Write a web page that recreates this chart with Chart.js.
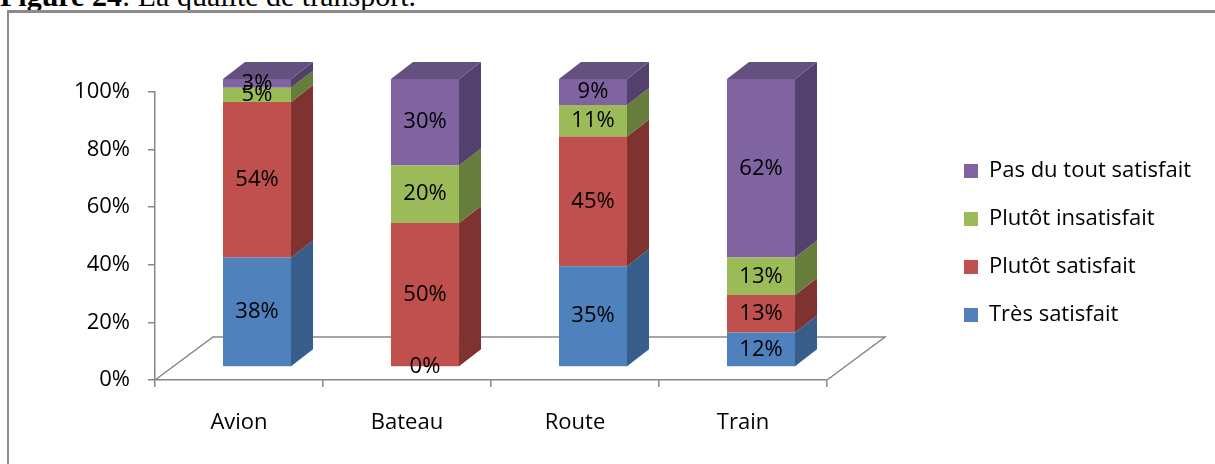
<!DOCTYPE html>
<html>
<head>
<meta charset="utf-8">
<script src="https://cdn.jsdelivr.net/npm/chart.js@4.4.1/dist/chart.umd.min.js"></script>
<style>
  body { margin: 0; background: #fff; overflow: hidden; }
  #caption {
    position: absolute; left: 0; top: -21px;
    font-family: "Liberation Serif", "Times New Roman", serif;
    font-size: 30px; white-space: nowrap; color: #000;
  }
  #frame {
    position: absolute; left: 7px; top: 10px; width: 1300px; height: 600px;
    border: 2px solid #8a8a8a; border-top-width: 3px;
  }
  #chart { position: absolute; left: 0; top: 0; }
</style>
</head>
<body>
<div id="caption"><b>Figure 24</b>: La qualité de transport.</div>
<div id="frame"></div>
<canvas id="chart" width="1215" height="464"></canvas>
<script>
const categories = ['Avion', 'Bateau', 'Route', 'Train'];
const seriesNames = ['Très satisfait', 'Plutôt satisfait', 'Plutôt insatisfait', 'Pas du tout satisfait'];
const tresSatisfait = [38, 0, 35, 12];
const plutotSatisfait = [54, 50, 45, 13];
const plutotInsatisfait = [5, 20, 11, 13];
const pasDuToutSatisfait = [3, 30, 9, 62];
const yTicks = [0, 20, 40, 60, 80, 100];

// front / side / top colours of each series
const fronts = ['#4f81bd', '#c0504d', '#9bbb59', '#8064a2'];
const sides = ['#385d8a', '#7e3331', '#677d3b', '#51416c'];
const tops = ['#41699b', '#9c403d', '#7f9b47', '#655180'];

const FONT = { family: 'Open Sans', size: 22 };
const AXIS = '#868686';
const DEPTH = { dx: 22, dy: -17 };  // depth of one column
const FLOOR = { dx: 58, dy: -43 };  // depth of the floor

const LEGEND_PAD = 26, BOX = 14;

// width of the legend box, so the right padding can be sized around it
const mctx = document.createElement('canvas').getContext('2d');
mctx.font = FONT.size + 'px "' + FONT.family + '"';
const longest = Math.max(...seriesNames.map(s => mctx.measureText(s).width));
const legendWidth = LEGEND_PAD + BOX + FONT.size / 2 + longest + 10;

const bars3d = {
  id: 'bars3d',
  beforeDatasetsDraw(chart) {
    const { ctx, chartArea: a } = chart;
    ctx.save();
    ctx.strokeStyle = AXIS;
    ctx.lineWidth = 1.5;
    ctx.beginPath();
    ctx.moveTo(a.left, a.bottom);
    ctx.lineTo(a.left + FLOOR.dx, a.bottom + FLOOR.dy);
    ctx.lineTo(a.right + FLOOR.dx, a.bottom + FLOOR.dy);
    ctx.lineTo(a.right, a.bottom);
    ctx.stroke();
    ctx.restore();
    // columns sit halfway into the floor
    ctx.save();
    ctx.translate((FLOOR.dx - DEPTH.dx) / 2, (FLOOR.dy - DEPTH.dy) / 2);
  },
  afterDatasetsDraw(chart) {
    const ctx = chart.ctx;
    const sets = chart.data.datasets;
    sets.forEach((ds, i) => {
      chart.getDatasetMeta(i).data.forEach((bar, j) => {
        const { x, y, base, width } = bar.getProps(['x', 'y', 'base', 'width'], true);
        if (Math.abs(base - y) < 0.5) return;
        const l = x - width / 2, r = x + width / 2;
        ctx.fillStyle = sides[i];
        ctx.beginPath();
        ctx.moveTo(r, y);
        ctx.lineTo(r + DEPTH.dx, y + DEPTH.dy);
        ctx.lineTo(r + DEPTH.dx, base + DEPTH.dy);
        ctx.lineTo(r, base);
        ctx.closePath();
        ctx.fill();
        const covered = sets.slice(i + 1).some(d => d.data[j] > 0);
        if (!covered) {
          ctx.fillStyle = tops[i];
          ctx.beginPath();
          ctx.moveTo(l, y);
          ctx.lineTo(l + DEPTH.dx, y + DEPTH.dy);
          ctx.lineTo(r + DEPTH.dx, y + DEPTH.dy);
          ctx.lineTo(r, y);
          ctx.closePath();
          ctx.fill();
        }
      });
    });
    // value labels on the front faces
    ctx.font = FONT.size + 'px "' + FONT.family + '"';
    ctx.fillStyle = '#000';
    ctx.textAlign = 'center';
    ctx.textBaseline = 'middle';
    sets.forEach((ds, i) => {
      chart.getDatasetMeta(i).data.forEach((bar, j) => {
        const { x, y, base } = bar.getProps(['x', 'y', 'base'], true);
        ctx.fillText(ds.data[j] + '%', x, (y + base) / 2);
      });
    });
    ctx.restore();
  }
};

const values = [tresSatisfait, plutotSatisfait, plutotInsatisfait, pasDuToutSatisfait];

// invisible axes used only to reserve room around the plot
const spacer = (position, size) => ({
  type: 'linear',
  position,
  grid: { display: false },
  border: { display: false },
  ticks: { display: false },
  afterFit(s) {
    if (position === 'top') s.height = size; else s.width = size;
  }
});

new Chart(document.getElementById('chart'), {
  type: 'bar',
  data: {
    labels: categories,
    datasets: seriesNames.map((name, i) => ({
      label: name,
      data: values[i],
      backgroundColor: fronts[i],
      borderWidth: 0,
      barPercentage: 0.405,
      categoryPercentage: 1,
      clip: false
    }))
  },
  options: {
    responsive: false,
    animation: false,
    events: [],
    layout: { padding: { top: 22, bottom: 0, left: 0, right: 277 - legendWidth } },
    plugins: {
      tooltip: { enabled: false },
      legend: {
        position: 'right',
        align: 'center',
        reverse: true,
        maxWidth: 600,
        labels: {
          boxWidth: BOX, boxHeight: BOX, padding: LEGEND_PAD,
          font: FONT, color: '#000'
        }
      }
    },
    scales: {
      x: {
        stacked: true,
        grid: { drawOnChartArea: false, tickLength: 7, color: AXIS, lineWidth: 1.5, offset: true },
        border: { color: AXIS, width: 1.5 },
        ticks: { color: '#000', font: FONT, padding: 23 },
        afterFit(s) { s.height = 84; }
      },
      y: {
        stacked: true,
        min: 0, max: 100,
        afterBuildTicks(s) { s.ticks = yTicks.map(v => ({ value: v })); },
        grid: { drawOnChartArea: false, tickLength: 7, color: AXIS, lineWidth: 1.5 },
        border: { color: AXIS, width: 1.5 },
        ticks: { color: '#000', font: FONT, padding: 18, callback: v => v + '%' },
        afterFit(s) { s.width = 155; }
      },
      gapTop: spacer('top', 70),
      gapRight: spacer('right', 111)
    }
  },
  plugins: [bars3d]
});
</script>
</body>
</html>
